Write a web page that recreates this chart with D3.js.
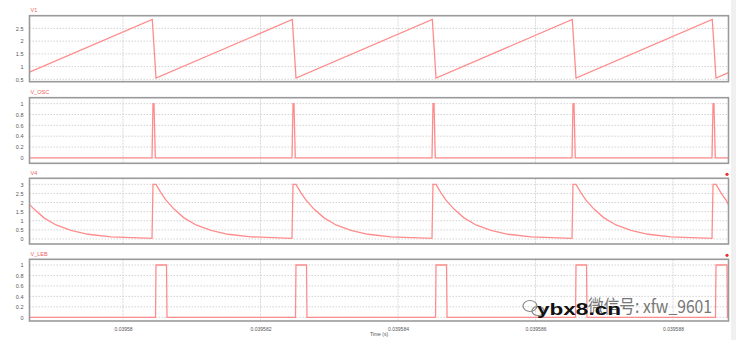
<!DOCTYPE html>
<html>
<head>
<meta charset="utf-8">
<script src="https://cdn.jsdelivr.net/npm/d3@7"></script>
<style>
  body { margin: 0; background: #fff; }
  svg { display: block; font-family: "Liberation Sans", Arial, sans-serif; }
</style>
</head>
<body>
<div id="chart"></div>
<script>
var w = 736; // Set the width
var h = 340; // Set the height

// time axis (microseconds), ticks shown as seconds
var timeDomain = [39578.64, 39588.807];
var timeTicks = [39580, 39582, 39584, 39586, 39588];
var timeTickLabels = ["0.03958", "0.039582", "0.039584", "0.039586", "0.039588"];

// panel names and y axes
var panelNames = ["V1", "V_OSC", "V4", "V_LEB"];
var yDomains = [[0.405, 3.0], [-0.1, 1.11], [-0.274, 3.33], [-0.071, 1.109]];
var yTicks = [
    [0.5, 1, 1.5, 2, 2.5],
    [0, 0.2, 0.4, 0.6, 0.8, 1],
    [0, 0.5, 1, 1.5, 2, 2.5, 3],
    [0, 0.2, 0.4, 0.6, 0.8, 1]
];

// V1 sawtooth
var v1Time = [39578.640, 39580.426, 39580.480, 39582.463, 39582.516, 39584.499, 39584.553,
              39586.535, 39586.589, 39588.571, 39588.625, 39588.807];
var v1Value = [0.78, 2.85, 0.55, 2.85, 0.55, 2.85, 0.55, 2.85, 0.55, 2.85, 0.55, 0.76];

// V_OSC narrow pulses
var oscTime = [39578.640,
               39580.422, 39580.436, 39580.451, 39580.470,
               39582.458, 39582.473, 39582.487, 39582.506,
               39584.494, 39584.509, 39584.524, 39584.542,
               39586.531, 39586.545, 39586.560, 39586.578,
               39588.567, 39588.582, 39588.596, 39588.615,
               39588.807];
var oscValue = [0,
                0, 1, 1, 0,
                0, 1, 1, 0,
                0, 1, 1, 0,
                0, 1, 1, 0,
                0, 1, 1, 0,
                0];

// V4 charge / decay
var v4Time = [39578.640, 39578.705, 39578.851, 39579.025, 39579.244, 39579.491, 39579.825,
              39580.422, 39580.436, 39580.480,
              39580.553, 39580.625, 39580.742, 39580.887, 39581.062, 39581.280, 39581.527, 39581.862,
              39582.458, 39582.473, 39582.516,
              39582.589, 39582.662, 39582.778, 39582.924, 39583.098, 39583.316, 39583.564, 39583.898,
              39584.494, 39584.509, 39584.553,
              39584.625, 39584.698, 39584.814, 39584.960, 39585.134, 39585.353, 39585.600, 39585.934,
              39586.531, 39586.545, 39586.589,
              39586.662, 39586.734, 39586.851, 39586.996, 39587.171, 39587.389, 39587.636, 39587.971,
              39588.567, 39588.582, 39588.625,
              39588.698, 39588.771, 39588.807];
var v4Value = [1.9, 1.64, 1.16, 0.77, 0.47, 0.26, 0.12,
               0.04, 3.0, 3.0,
               2.53, 2.13, 1.64, 1.16, 0.77, 0.47, 0.26, 0.12,
               0.04, 3.0, 3.0,
               2.53, 2.13, 1.64, 1.16, 0.77, 0.47, 0.26, 0.12,
               0.04, 3.0, 3.0,
               2.53, 2.13, 1.64, 1.16, 0.77, 0.47, 0.26, 0.12,
               0.04, 3.0, 3.0,
               2.53, 2.13, 1.64, 1.16, 0.77, 0.47, 0.26, 0.12,
               0.04, 3.0, 3.0,
               2.53, 2.13, 1.9];

// V_LEB blanking pulses
var lebTime = [39578.640,
               39580.473, 39580.480, 39580.633, 39580.640,
               39582.509, 39582.516, 39582.669, 39582.676,
               39584.546, 39584.553, 39584.706, 39584.713,
               39586.582, 39586.589, 39586.742, 39586.749,
               39588.618, 39588.625, 39588.785, 39588.792,
               39588.807];
var lebValue = [0,
                0, 1, 1, 0,
                0, 1, 1, 0,
                0, 1, 1, 0,
                0, 1, 1, 0,
                0, 1, 1, 0,
                0];

var seriesTimes = [v1Time, oscTime, v4Time, lebTime];
var seriesValues = [v1Value, oscValue, v4Value, lebValue];

// panel layout (pixels)
var left = 29.5, right = 728.5;
var panelTops = [15.7, 97.7, 178.3, 259.3];
var panelBottoms = [81.7, 163.3, 244, 321];

var traceColor = "#ff8c8c";

function init() {
    var svg = d3.select("#chart")
        .append("svg")
        .attr("width", w)
        .attr("height", h);

    svg.append("rect").attr("width", w).attr("height", h).attr("fill", "#fff");
    // faint strip on the right edge of the screenshot
    svg.append("rect").attr("x", 731).attr("y", 0).attr("width", 5).attr("height", h).attr("fill", "#f0f0f0");

    var xScale = d3.scaleLinear()
        .domain(timeDomain)
        .range([left, right]);

    panelNames.forEach(function(name, i) {
        var top = panelTops[i], bottom = panelBottoms[i];
        var yScale = d3.scaleLinear()
            .domain(yDomains[i])
            .range([bottom, top]);

        var g = svg.append("g");

        // horizontal grid
        g.selectAll(".hgrid")
            .data(yTicks[i])
            .enter()
            .append("line")
            .attr("x1", left)
            .attr("x2", right)
            .attr("y1", function(d) { return yScale(d); })
            .attr("y2", function(d) { return yScale(d); })
            .attr("stroke", "#c8c8c8")
            .attr("stroke-width", 0.8)
            .attr("stroke-dasharray", "1.5,1.5");

        // vertical grid
        g.selectAll(".vgrid")
            .data(timeTicks)
            .enter()
            .append("line")
            .attr("x1", function(d) { return xScale(d); })
            .attr("x2", function(d) { return xScale(d); })
            .attr("y1", top)
            .attr("y2", bottom)
            .attr("stroke", "#cfcfcf")
            .attr("stroke-width", 0.8)
            .attr("stroke-dasharray", "2,1");

        // y axis labels
        var yAxis = d3.axisLeft(yScale)
            .tickValues(yTicks[i])
            .tickSize(0)
            .tickPadding(6)
            .tickFormat(d3.format("~g"));
        var ax = g.append("g")
            .attr("transform", "translate(" + left + ",0)")
            .call(yAxis);
        ax.select(".domain").remove();
        ax.selectAll("text")
            .style("font-size", "5.5px")
            .attr("fill", "#555");

        // trace
        var pts = seriesTimes[i].map(function(t, k) { return [t, seriesValues[i][k]]; });
        var line = d3.line()
            .x(function(d) { return xScale(d[0]); })
            .y(function(d) { return yScale(d[1]); });

        var clipId = "clip" + i;
        svg.append("clipPath").attr("id", clipId)
            .append("rect")
            .attr("x", left).attr("y", top)
            .attr("width", right - left).attr("height", bottom - top);

        g.append("path")
            .datum(pts)
            .attr("clip-path", "url(#" + clipId + ")")
            .attr("fill", "none")
            .attr("stroke", traceColor)
            .attr("stroke-width", 1.3)
            .attr("d", line);

        // frame
        g.append("rect")
            .attr("x", left)
            .attr("y", top)
            .attr("width", right - left)
            .attr("height", bottom - top)
            .attr("fill", "none")
            .attr("stroke", "#9a9a9a")
            .attr("stroke-width", 1.6);

        // panel title
        g.append("text")
            .attr("x", left + 1)
            .attr("y", top - 3.5)
            .style("font-size", "5.5px")
            .attr("fill", "#f06060")
            .text(name);

        // marker dots
        if (name === "V4" || name === "V_LEB") {
            g.append("circle")
                .attr("cx", right - 1.5)
                .attr("cy", top - 4)
                .attr("r", 1.6)
                .attr("fill", "#e83030");
        }
    });

    // x axis labels
    var xAxis = d3.axisBottom(xScale)
        .tickValues(timeTicks)
        .tickSize(0)
        .tickPadding(6)
        .tickFormat(function(d, k) { return timeTickLabels[k]; });
    var xg = svg.append("g")
        .attr("transform", "translate(0," + panelBottoms[3] + ")")
        .call(xAxis);
    xg.select(".domain").remove();
    xg.selectAll("text")
        .style("font-size", "5px")
        .attr("fill", "#555");

    // x axis title
    svg.append("text")
        .attr("x", 379)
        .attr("y", 336)
        .attr("text-anchor", "middle")
        .style("font-size", "5px")
        .attr("fill", "#555")
        .text("Time (s)");

    // watermark: small chat-bubble icon and text
    var icon = svg.append("g").attr("fill", "none").attr("stroke", "#888").attr("stroke-width", 1.2);
    icon.append("ellipse").attr("cx", 530).attr("cy", 306).attr("rx", 7).attr("ry", 5.5);
    icon.append("ellipse").attr("cx", 538).attr("cy", 311).attr("rx", 6).attr("ry", 4.5);

    svg.append("text")
        .attr("x", 588)
        .attr("y", 313)
        .attr("textLength", 124)
        .attr("lengthAdjust", "spacingAndGlyphs")
        .style("font-size", "18px")
        .style("font-family", "'Noto Sans CJK SC', sans-serif")
        .attr("fill", "#777")
        .text("微信号: xfw_9601");
    svg.append("text")
        .attr("x", 537)
        .attr("y", 315)
        .attr("textLength", 84)
        .attr("lengthAdjust", "spacingAndGlyphs")
        .style("font-size", "17px")
        .style("font-weight", "bold")
        .attr("fill", "#111")
        .text("ybx8.cn");
}

init();
</script>
</body>
</html>
